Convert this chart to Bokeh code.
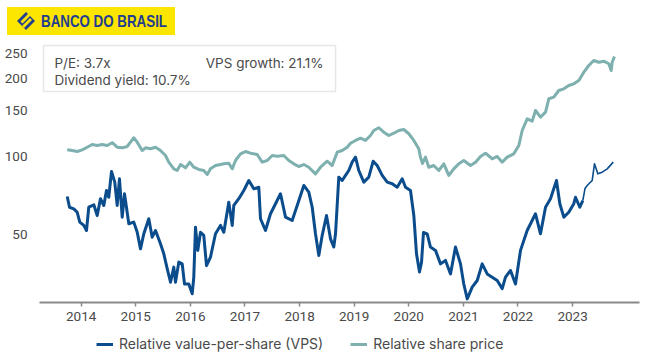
from bokeh.plotting import figure
from bokeh.layouts import column
from bokeh.models import (FixedTicker, Legend, LegendItem, Label, BoxAnnotation,
                          Range1d, BasicTickFormatter, Div)
from bokeh.embed import file_html
from bokeh.resources import INLINE

# ---------------- data ----------------
price_year = [2013.744, 2013.835, 2013.927, 2014.018, 2014.110, 2014.201, 2014.293, 2014.385, 2014.476, 2014.568,
              2014.659, 2014.751, 2014.842, 2014.903, 2014.963, 2015.026, 2015.117, 2015.178, 2015.269, 2015.361,
              2015.452, 2015.544, 2015.604, 2015.696, 2015.758, 2015.819, 2015.910, 2015.989, 2016.062, 2016.154,
              2016.245, 2016.308, 2016.368, 2016.460, 2016.551, 2016.612, 2016.703, 2016.766, 2016.826, 2016.918,
              2017.009, 2017.101, 2017.223, 2017.315, 2017.407, 2017.498, 2017.590, 2017.711, 2017.802, 2017.894,
              2017.985, 2018.077, 2018.168, 2018.291, 2018.383, 2018.505, 2018.597, 2018.689, 2018.780, 2018.872,
              2018.932, 2019.024, 2019.115, 2019.207, 2019.298, 2019.359, 2019.451, 2019.542, 2019.634, 2019.725,
              2019.817, 2019.908, 2020.000, 2020.092, 2020.183, 2020.214, 2020.251, 2020.306, 2020.366, 2020.458,
              2020.549, 2020.641, 2020.733, 2020.824, 2020.916, 2021.007, 2021.130, 2021.222, 2021.313, 2021.405,
              2021.527, 2021.619, 2021.711, 2021.802, 2021.923, 2022.015, 2022.077, 2022.168, 2022.260, 2022.321,
              2022.412, 2022.504, 2022.564, 2022.656, 2022.747, 2022.839, 2022.930, 2023.022, 2023.114, 2023.205,
              2023.297, 2023.388, 2023.480, 2023.571, 2023.663, 2023.707, 2023.725, 2023.767]
price_value = [106.1, 105.5, 104.5, 106.1, 108.6, 111.3, 110.3, 111.3, 110.3, 113.0,
               108.6, 108.0, 109.3, 113.6, 118.1, 113.6, 105.5, 108.0, 107.1, 108.6,
               105.5, 100.9, 95.1, 89.6, 88.3, 93.1, 90.4, 95.1, 90.9, 89.1,
               88.3, 85.2, 89.6, 92.3, 93.1, 93.7, 94.2, 89.6, 96.5, 102.4,
               104.5, 103.0, 101.8, 95.1, 96.5, 100.9, 100.3, 100.9, 96.5, 93.7,
               91.5, 93.1, 90.9, 85.7, 90.9, 95.9, 92.3, 103.9, 105.5, 108.6,
               112.5, 115.3, 117.7, 115.3, 120.5, 126.0, 129.1, 124.1, 120.5, 123.0,
               126.0, 127.1, 122.4, 115.3, 107.1, 99.4, 94.0, 99.4, 90.9, 92.3,
               88.3, 93.7, 84.5, 89.6, 93.7, 96.5, 92.3, 95.1, 100.0, 103.0,
               98.0, 100.0, 95.1, 99.4, 102.4, 110.3, 126.0, 139.8, 136.9, 150.5,
               141.8, 148.3, 167.0, 169.4, 179.8, 182.5, 187.9, 190.8, 196.5, 211.6,
               224.5, 234.7, 231.2, 233.3, 228.0, 214.8, 231.2, 243.2]

vps_year = [2013.744, 2013.786, 2013.864, 2013.927, 2013.974, 2014.048, 2014.097, 2014.139, 2014.231, 2014.293,
            2014.353, 2014.414, 2014.463, 2014.505, 2014.555, 2014.615, 2014.659, 2014.701, 2014.751, 2014.793,
            2014.872, 2014.963, 2015.026, 2015.086, 2015.147, 2015.238, 2015.300, 2015.361, 2015.452, 2015.513,
            2015.575, 2015.636, 2015.696, 2015.727, 2015.788, 2015.850, 2015.892, 2015.971, 2016.033, 2016.062,
            2016.093, 2016.136, 2016.185, 2016.245, 2016.295, 2016.368, 2016.460, 2016.551, 2016.612, 2016.703,
            2016.766, 2016.795, 2016.886, 2016.978, 2017.070, 2017.161, 2017.253, 2017.284, 2017.375, 2017.467,
            2017.527, 2017.650, 2017.742, 2017.864, 2017.956, 2018.077, 2018.168, 2018.231, 2018.291, 2018.352,
            2018.414, 2018.493, 2018.566, 2018.626, 2018.658, 2018.718, 2018.780, 2018.841, 2018.901, 2018.963,
            2019.024, 2019.084, 2019.176, 2019.267, 2019.348, 2019.421, 2019.513, 2019.604, 2019.696, 2019.788,
            2019.879, 2019.940, 2020.031, 2020.092, 2020.141, 2020.196, 2020.233, 2020.269, 2020.337, 2020.397,
            2020.489, 2020.581, 2020.672, 2020.764, 2020.855, 2020.947, 2021.007, 2021.070, 2021.161, 2021.253,
            2021.344, 2021.436, 2021.527, 2021.619, 2021.711, 2021.771, 2021.863, 2021.954, 2022.046, 2022.168,
            2022.321, 2022.412, 2022.504, 2022.595, 2022.705, 2022.766, 2022.839, 2022.930, 2023.022, 2023.053,
            2023.132, 2023.187]
vps_value = [70.1, 63.7, 62.8, 60.9, 55.8, 54.2, 51.8, 63.7, 65.1, 59.2,
             68.7, 64.7, 73.9, 69.6, 87.5, 79.6, 64.7, 82.0, 58.3, 71.8,
             55.0, 55.8, 51.0, 44.0, 50.3, 57.5, 48.8, 51.8, 46.0, 42.1,
             36.9, 32.7, 37.4, 32.7, 39.1, 38.5, 32.2, 32.2, 29.5, 34.2,
             53.3, 43.4, 51.0, 49.6, 37.9, 40.9, 50.3, 54.2, 51.0, 66.6,
             54.2, 64.7, 68.7, 73.9, 80.8, 75.0, 76.1, 57.5, 51.8, 60.1,
             63.7, 71.8, 58.3, 56.6, 64.7, 77.3, 72.8, 63.7, 50.3, 41.5,
             49.6, 59.2, 48.1, 44.7, 50.3, 83.2, 80.8, 84.5, 88.3, 95.1,
             99.4, 88.3, 79.6, 83.2, 95.9, 92.3, 84.5, 79.6, 78.5, 76.1,
             82.0, 76.1, 73.9, 59.2, 42.1, 35.8, 39.0, 50.9, 50.3, 44.7,
             43.4, 38.5, 39.7, 35.2, 44.7, 38.5, 32.2, 28.2, 31.3, 33.2,
             38.5, 35.2, 34.2, 33.2, 30.9, 34.2, 36.3, 32.2, 43.4, 51.8,
             60.1, 50.3, 63.7, 68.7, 80.8, 65.7, 58.3, 60.9, 65.7, 69.6,
             63.7, 67.6]

vps_recent_year = [2023.187, 2023.227, 2023.267, 2023.359, 2023.401, 2023.462, 2023.542, 2023.634, 2023.744]
vps_recent_value = [67.6, 75.2, 77.3, 80.8, 93.7, 85.7, 87.0, 89.6, 95.1]

x_ticks = [2014, 2015, 2016, 2017, 2018, 2019, 2020, 2021, 2022, 2023]
y_ticks = [50, 100, 150, 200, 250]

series_labels = ["Relative value-per-share (VPS)", "Relative share price"]
stats_left = ["P/E: 3.7x", "Dividend yield: 10.7%"]
stats_right = "VPS growth: 21.1%"
brand = "BANCO DO BRASIL"

# ---------------- styling ----------------
TICK_FONT = "Roboto"
FONT = "Inter"
TXT = "#4a4a4a"
BLUE = "#0B4C8C"
TEAL = "#7DB0AE"
YELLOW = "#FCE600"
LOGO_BLUE = "#233E91"

W = 650
LOGO_H = 40          # canvas rows 0..40
LEG_H = 27           # canvas rows 330..357
MAIN_H = 357 - LOGO_H - LEG_H
FL, FR = 39, 639     # frame left/right (canvas px)
FB = 302             # frame bottom (canvas px)

# ---------------- logo strip (inline SVG) ----------------
logo_html = (
    f'<svg xmlns="http://www.w3.org/2000/svg" width="{W}" height="{LOGO_H}" style="display:block">'
    f'<rect x="7" y="7" width="168" height="28" fill="{YELLOW}"/>'
    f'<polygon points="26,12 35,21 26,30 17,21" fill="{LOGO_BLUE}"/>'
    f'<polygon points="20.5,21.5 22.5,23.5 30.5,15.5 28.5,13.5" fill="{YELLOW}"/>'
    f'<polygon points="22,26 24,28 32,20 30,18" fill="{YELLOW}"/>'
    f'<text x="41" y="27.3" font-family="\'Liberation Sans Narrow\', \'Roboto Condensed\', Roboto" '
    f'font-weight="bold" font-size="17" textLength="126" lengthAdjust="spacingAndGlyphs" '
    f'fill="{LOGO_BLUE}">{brand}</text>'
    f'</svg>'
)
logo = Div(text=logo_html, width=W, height=LOGO_H, styles={"overflow": "hidden", "margin": "0"})

# ---------------- main chart ----------------
p = figure(width=W, height=MAIN_H, output_backend="svg", toolbar_location=None,
           y_axis_type="log",
           x_range=Range1d(2013.2363, 2024.2253), y_range=Range1d(27.31, 280.4),
           min_border_left=FL, min_border_right=W - FR, min_border_top=0,
           min_border_bottom=MAIN_H - (FB - LOGO_H))
p.outline_line_color = None
p.grid.visible = False

p.line(price_year, price_value, line_color=TEAL, line_width=3, line_join="round")
p.line(vps_year, vps_value, line_color=BLUE, line_width=3, line_join="round")
p.line(vps_recent_year, vps_recent_value, line_color=BLUE, line_width=1.6, line_join="round")

xa = p.xaxis[0]
xa.ticker = FixedTicker(ticks=x_ticks)
xa.formatter = BasicTickFormatter(use_scientific=False)
xa.axis_line_color = "#8a8a8a"
xa.axis_line_width = 2
xa.major_tick_line_color = "#8a8a8a"
xa.major_tick_line_width = 1.5
xa.major_tick_out = 4
xa.major_tick_in = 0
xa.minor_tick_line_color = None
xa.major_label_standoff = 5
xa.major_label_text_font = TICK_FONT
xa.major_label_text_font_size = "13.5px"
xa.major_label_text_color = TXT

ya = p.yaxis[0]
ya.ticker = FixedTicker(ticks=y_ticks)
ya.formatter = BasicTickFormatter(use_scientific=False)
ya.axis_line_color = None
ya.major_tick_line_color = None
ya.minor_tick_line_color = None
ya.major_label_standoff = 6
ya.major_label_text_font = TICK_FONT
ya.major_label_text_font_size = "13.5px"
ya.major_label_text_color = TXT


def sx(cx):
    return cx - FL


def sy(cy):
    return FB - cy


p.add_layout(BoxAnnotation(left=sx(43), right=sx(335), top=sy(45), bottom=sy(91),
                           left_units="screen", right_units="screen", top_units="screen", bottom_units="screen",
                           fill_alpha=0, line_color="#b0b0b0", line_width=1.5))
for txt, cy in zip(stats_left, [62, 79.5]):
    p.add_layout(Label(x=sx(54), y=sy(cy), x_units="screen", y_units="screen", text=txt,
                       text_font=FONT, text_font_size="13.5px", text_color=TXT, text_baseline="middle"))
p.add_layout(Label(x=sx(323), y=sy(62), x_units="screen", y_units="screen", text=stats_right,
                   text_font=FONT, text_font_size="13.5px", text_color=TXT, text_baseline="middle",
                   text_align="right"))

# ---------------- legend strip ----------------
leg = figure(width=W, height=LEG_H, output_backend="svg", toolbar_location=None,
             x_range=Range1d(0, 1), y_range=Range1d(0, 1),
             min_border_left=FL, min_border_right=W - FR, min_border_top=0, min_border_bottom=0,
             x_axis_location=None, y_axis_location=None)
leg.outline_line_color = None
leg.grid.visible = False
# legend proxies: same series, but outside this strip's (0..1) view so only the swatches show
d_vps = leg.line(vps_year, vps_value, line_color=BLUE, line_width=3)
d_price = leg.line(price_year, price_value, line_color=TEAL, line_width=3)
legend = Legend(items=[LegendItem(label=series_labels[0], renderers=[d_vps]),
                       LegendItem(label=series_labels[1], renderers=[d_price])],
                orientation="horizontal", location=(96 - FL, 5),
                border_line_alpha=0, background_fill_alpha=0, padding=0, margin=0,
                spacing=27, label_standoff=6, glyph_width=17, glyph_height=16, label_height=16,
                label_text_font=FONT, label_text_font_size="14px", label_text_color=TXT)
leg.add_layout(legend)

layout = column(logo, p, leg, spacing=0)
open("out.html", "w").write(file_html(layout, INLINE))
